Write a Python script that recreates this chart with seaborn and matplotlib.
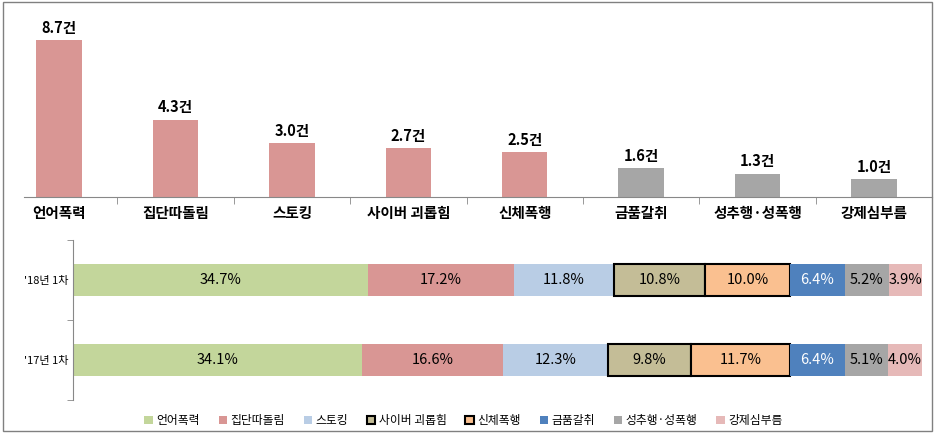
import matplotlib
matplotlib.use("Agg")
import matplotlib.pyplot as plt
import seaborn as sns
import numpy as np
import pandas as pd
from matplotlib.patches import Rectangle

plt.rcParams["font.family"] = "Noto Sans CJK KR"

categories = ["언어폭력", "집단따돌림", "스토킹", "사이버 괴롭힘", "신체폭행", "금품갈취", "성추행·성폭행", "강제심부름"]
counts = [8.7, 4.3, 3.0, 2.7, 2.5, 1.6, 1.3, 1.0]
years = ["'18년 1차", "'17년 1차"]
share_18 = [34.7, 17.2, 11.8, 10.8, 10.0, 6.4, 5.2, 3.9]
share_17 = [34.1, 16.6, 12.3, 9.8, 11.7, 6.4, 5.1, 4.0]

bar_colors = ["#d99694"] * 5 + ["#a6a6a6"] * 3
seg_colors = ["#c3d69b", "#d99694", "#b9cde5", "#c4bd97", "#fac090", "#4f81bd", "#a6a6a6", "#e6b9b8"]
edged = [False, False, False, True, True, False, False, False]

fig = plt.figure(figsize=(9.35, 4.33), dpi=100)
fig.patches.append(Rectangle((0.003, 0.005), 0.994, 0.99, transform=fig.transFigure,
                             fill=False, edgecolor="#808080", lw=1))

ax1 = fig.add_axes([0.001, 0.545, 0.996, 0.395])
df = pd.DataFrame({"cat": categories, "val": counts})
sns.barplot(data=df, x="cat", y="val", hue="cat", palette=bar_colors, legend=False,
            width=0.39, ax=ax1, saturation=1)
ax1.set_ylim(0, 9.5)
ax1.set_xlim(-0.5, 7.5)
for i, v in enumerate(counts):
    ax1.text(i, v + 0.25, f"{v:.1f}건", ha="center", va="bottom", fontsize=10.5, fontweight="bold")
ax1.set_yticks([])
ax1.set_xlabel(""); ax1.set_ylabel("")
ax1.set_xticks(np.arange(0.5, 7, 1), minor=True)
ax1.set_xticks(range(8))
ax1.set_xticklabels(categories, fontsize=10.5, fontweight="bold")
ax1.tick_params(axis="x", which="major", length=0, pad=6)
ax1.tick_params(axis="x", which="minor", length=5, color="#888888")
for s in ["top", "right", "left"]:
    ax1.spines[s].set_visible(False)
ax1.spines["bottom"].set_color("#888888")
ax1.spines["bottom"].set_bounds(-0.3, 7.5)

ax2 = fig.add_axes([0.078, 0.076, 0.908, 0.37])
rows = [share_18, share_17]
for r, vals in enumerate(rows):
    left = 0
    for j, v in enumerate(vals):
        ax2.barh(r, v, left=left, height=0.39, color=seg_colors[j],
                 edgecolor="black" if edged[j] else "none", lw=1.5 if edged[j] else 0,
                 label=categories[j] if r == 0 else None)
        tc = "white" if j == 5 else "black"
        ax2.text(left + v / 2, r, f"{v:.1f}%", ha="center", va="center", fontsize=10.5, color=tc)
        left += v
ax2.set_xlim(0, 100)
ax2.set_ylim(1.5, -0.5)
ax2.set_yticks([0, 1])
ax2.set_yticklabels(years, fontsize=8)
ax2.set_yticks([-0.5, 0.5, 1.5], minor=True)
ax2.tick_params(axis="y", which="major", length=0)
ax2.tick_params(axis="y", which="minor", length=4, color="#888888")
ax2.set_xticks([])
for s in ["top", "right", "bottom"]:
    ax2.spines[s].set_visible(False)
ax2.spines["left"].set_color("#888888")
ax2.legend(loc="upper center", bbox_to_anchor=(0.46, -0.02), ncol=8, frameon=False,
           fontsize=8.5, handlelength=0.7, handleheight=0.7, handletextpad=0.3, columnspacing=1.6)

fig.savefig("out.png", dpi=100)
